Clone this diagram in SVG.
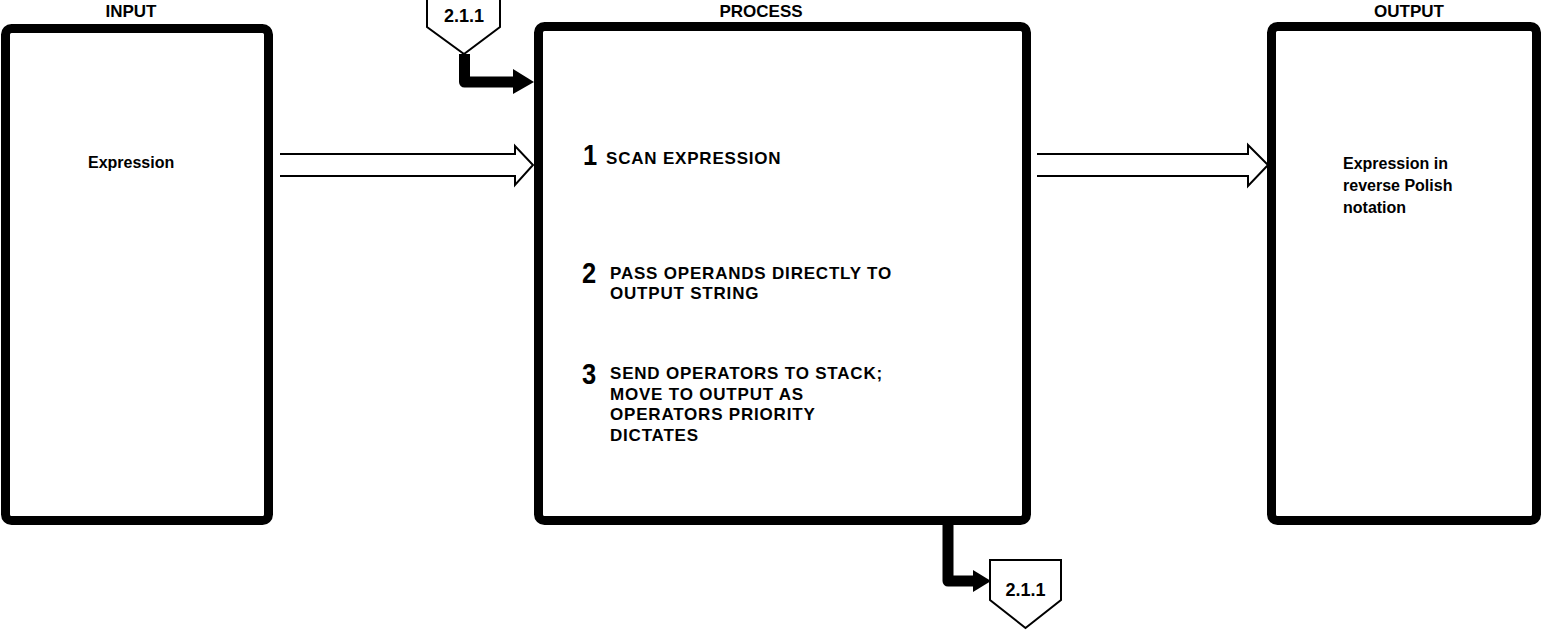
<svg xmlns="http://www.w3.org/2000/svg" width="1543" height="631" viewBox="0 0 1543 631">
<style>
.box{fill:#fff;stroke:#000;stroke-width:9}
.hdr{font-family:"Liberation Sans",Arial,sans-serif;font-weight:bold;font-size:17px;text-anchor:middle;fill:#000}
.t{font-family:"Liberation Sans",Arial,sans-serif;font-weight:bold;font-size:16px;fill:#000}
.p{font-family:"Liberation Sans",Arial,sans-serif;font-weight:bold;font-size:17px;fill:#000;letter-spacing:0.8px}
.n{font-family:"Liberation Sans",Arial,sans-serif;font-weight:bold;font-size:30px;fill:#000}
.ref{font-family:"Liberation Sans",Arial,sans-serif;font-weight:bold;font-size:18px;text-anchor:middle;fill:#000}
.pent{fill:#fff;stroke:#000;stroke-width:2}
.flow{fill:none;stroke:#000;stroke-width:2;stroke-linejoin:miter}
.thick{fill:none;stroke:#000;stroke-width:11;stroke-linejoin:round}
</style>
<rect width="1543" height="631" fill="#fff"/>
<g id="input">
<text class="hdr" x="131" y="17">INPUT</text>
<rect class="box" x="5.5" y="28.5" width="263" height="492" rx="6"/>
<text class="t" x="88" y="168">Expression</text>
</g>
<g id="process">
<text class="hdr" x="761" y="17">PROCESS</text>
<rect class="box" x="538.5" y="26.5" width="488" height="494" rx="6"/>
<text class="n" transform="translate(583,165) scale(0.85,1)">1</text>
<text class="p" x="606" y="164">SCAN EXPRESSION</text>
<text class="n" transform="translate(582,283) scale(0.85,1)">2</text>
<text class="p" x="610" y="279">PASS OPERANDS DIRECTLY TO</text>
<text class="p" x="610" y="299">OUTPUT STRING</text>
<text class="n" transform="translate(582,384) scale(0.85,1)">3</text>
<text class="p" x="610" y="379">SEND OPERATORS TO STACK;</text>
<text class="p" x="610" y="400">MOVE TO OUTPUT AS</text>
<text class="p" x="610" y="420">OPERATORS PRIORITY</text>
<text class="p" x="610" y="441">DICTATES</text>
</g>
<g id="output">
<text class="hdr" x="1409" y="17">OUTPUT</text>
<rect class="box" x="1271.5" y="26.5" width="265" height="494" rx="6"/>
<text class="t" x="1343" y="169">Expression in</text>
<text class="t" x="1343" y="191">reverse Polish</text>
<text class="t" x="1343" y="213">notation</text>
</g>
<g id="ref-in">
<path class="pent" d="M427,-2 V27 L464,54 L500,27 V-2"/>
<text class="ref" x="464" y="22">2.1.1</text>
</g>
<g id="ref-out">
<path class="pent" d="M990,560 H1061 V600 L1025.5,628 L990,600 Z"/>
<text class="ref" x="1025.5" y="596">2.1.1</text>
</g>
<g id="connectors">
<path class="flow" d="M280,154 H515 V146 L533,165 L515,185 V176 H280"/>
<path class="flow" d="M1037,154 H1248 V145 L1268,165 L1248,186 V176 H1037"/>
<path class="thick" d="M464.5,54 V82 H517"/>
<polygon points="513,69 534,82 513,94" fill="#000"/>
<path class="thick" d="M948,522 V581 H976"/>
<polygon points="973,570 991,581 973,592" fill="#000"/>
</g>
</svg>
